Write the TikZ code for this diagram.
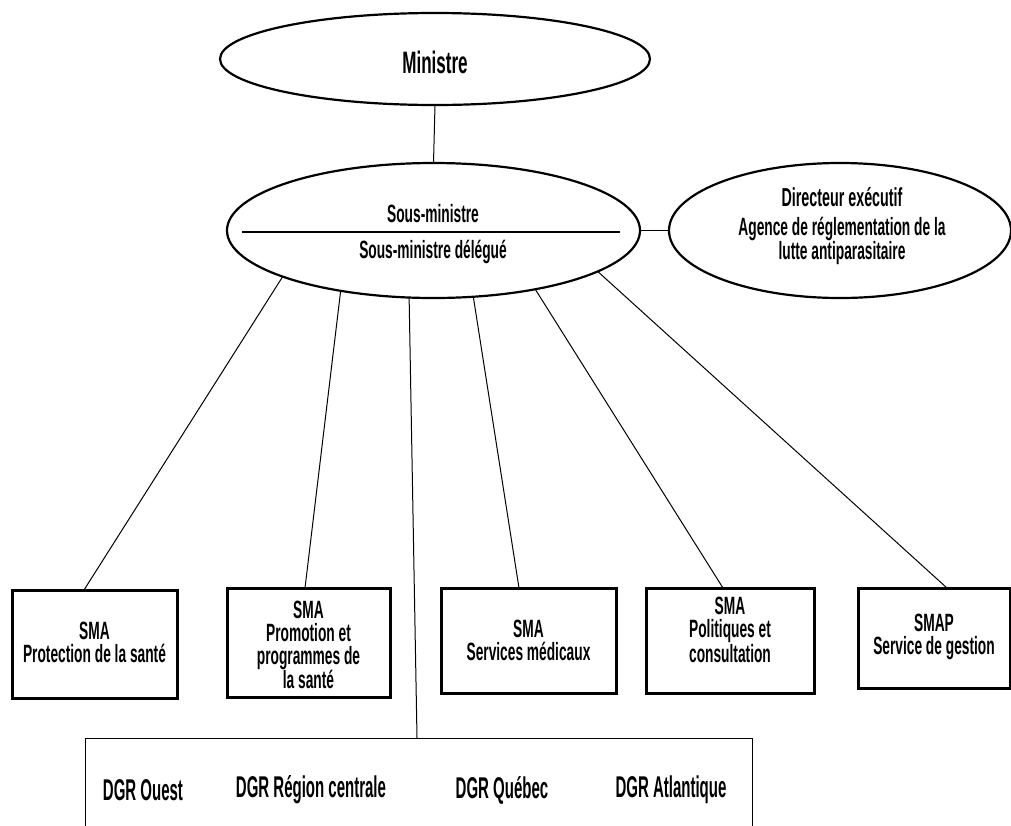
\documentclass[tikz,border=0pt]{standalone}
\usepackage{fontspec}
\setmainfont[FakeStretch=0.55,UprightFont=* Bold]{Liberation Sans}
\newfontfamily\dgrfont[FakeStretch=0.5,UprightFont=* Bold]{Liberation Sans}
\usetikzlibrary{shapes.geometric}
\begin{document}
\begin{tikzpicture}[x=1pt,y=-1pt,
  oval/.style={draw,ellipse,line width=2.2pt,inner sep=0pt,outer sep=0pt},
  unitbox/.style={draw,rectangle,line width=3pt,inner sep=0pt,outer sep=0pt},
  regbox/.style={draw,rectangle,line width=1pt,inner sep=0pt,outer sep=0pt},
  txt/.style={align=center,inner sep=0pt,font=\fontsize{25}{23}\selectfont},
  dgr/.style={inner sep=0pt,font=\dgrfont\fontsize{30}{32}\selectfont},
  conn/.style={line width=1pt}]
\clip (0,0) rectangle (1011,825);
\fill[white] (0,0) rectangle (1011,825);

% ellipses
\node[oval,minimum width=430,minimum height=92] (min) at (435,59) {};
\node[txt,font=\fontsize{31}{34}\selectfont] (mint) at (435,62) {Ministre};

\node[oval,minimum width=413,minimum height=135] (sm) at (433.5,230.5) {};
\node[txt] (smt1) at (433,214) {Sous-ministre};
\node[txt] (smt2) at (433,252) {Sous-ministre délégué};
\coordinate (sepl) at (242,232);
\coordinate (sepr) at (620,232);
\draw[line width=1.2pt] (sepl) -- (sepr);

\node[oval,minimum width=342,minimum height=135] (dir) at (840,230.5) {};
\node[txt,font=\fontsize{26}{21}\selectfont] (dirt1) at (842,197) {Directeur exécutif};
\node[txt,font=\fontsize{25}{21}\selectfont] (dirt2) at (842,241) {Agence de réglementation de la\\[-1pt]lutte antiparasitaire};

% boxes
\node[unitbox,minimum width=165,minimum height=108] (b1) at (94.5,644) {};
\node[txt] (b1t) at (94.5,642) {SMA\\Protection de la santé};
\node[unitbox,minimum width=163,minimum height=109] (b2) at (308.5,642.5) {};
\node[txt] (b2t) at (308.5,645) {SMA\\Promotion et\\programmes de\\la santé};
\node[unitbox,minimum width=175,minimum height=105] (b3) at (528.5,640.5) {};
\node[txt] (b3t) at (528.5,640) {SMA\\Services médicaux};
\node[unitbox,minimum width=168,minimum height=105] (b4) at (730,640.5) {};
\node[txt] (b4t) at (730,630) {SMA\\Politiques et\\consultation};
\node[unitbox,minimum width=152,minimum height=100] (b5) at (934,638) {};
\node[txt] (b5t) at (934,637) {SMAP\\Service de gestion};

% regional box (open at bottom)
\node[regbox,minimum width=667,minimum height=142] (reg) at (418.5,809) {};
\node[dgr] (r1) at (143,790) {DGR Ouest};
\node[dgr] (r2) at (311,790) {DGR Région centrale};
\node[dgr] (r3) at (502,790) {DGR Québec};
\node[dgr] (r4) at (671,790) {DGR Atlantique};

% connectors
\draw[conn] (min.south) -- (sm.north);
\draw[conn] (sm.east) -- (dir.west);
\draw[conn] (sm.197.7) -- ([xshift=72pt]b1.north west);
\draw[conn] (sm.213.9) -- ([xshift=78pt]b2.north west);
\draw[conn] (sm.250.8) -- ([xshift=332pt]reg.north west);
\draw[conn] (sm.301.1) -- ([xshift=78pt]b3.north west);
\draw[conn] (sm.330.8) -- ([xshift=77pt]b4.north west);
\draw[conn] (sm.346.2) -- ([xshift=89pt]b5.north west);
\end{tikzpicture}
\end{document}
